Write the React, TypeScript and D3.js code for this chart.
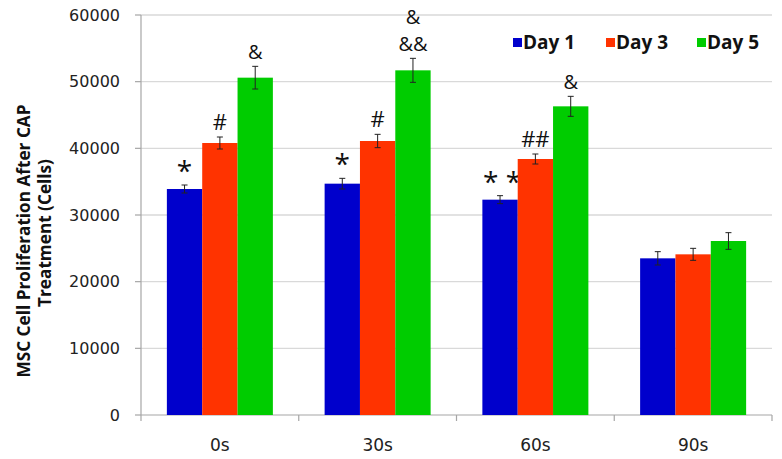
import React from "react";
import * as d3 from "d3";

const categories = ["0s", "30s", "60s", "90s"];
const seriesNames = ["Day 1", "Day 3", "Day 5"];
const day1 = [33900, 34700, 32300, 23500];
const day3 = [40800, 41100, 38400, 24100];
const day5 = [50600, 51700, 46300, 26100];
const day1Err = [600, 800, 600, 1000];
const day3Err = [900, 1000, 750, 900];
const day5Err = [1700, 1800, 1500, 1250];
const yTicks = [0, 10000, 20000, 30000, 40000, 50000, 60000];
// significance marks per category per series (lines stacked upward)
const marks: string[][][] = [
  [["*"], ["#"], ["&"]],
  [["*"], ["#"], ["&&", "&"]],
  [["* *"], ["##"], ["&"]],
  [[], [], []],
];
const colors = ["#0000CC", "#FF3300", "#00CC00"];

export default function App() {
  const W = 782, H = 459;
  const x0 = 141, x1 = 772, yTop = 15, yBot = 415;
  const values = [day1, day3, day5];
  const errs = [day1Err, day3Err, day5Err];
  const x = d3.scaleBand<string>().domain(categories).range([x0, x1]).paddingInner(0).paddingOuter(0);
  const y = d3.scaleLinear().domain([0, 60000]).range([yBot, yTop]);
  const bw = x.bandwidth();
  const barW = bw * 0.224;
  const font = "'DejaVu Sans', sans-serif";
  const fontB = "'Open Sans', sans-serif";
  return (
    <svg width={W} height={H} style={{ position: "absolute", left: 0, top: 0, background: "#fff" }}>
      {yTicks.map((t) => (
        <g key={t}>
          {t > 0 && <line x1={x0} x2={x1} y1={y(t)} y2={y(t)} stroke="#d9d9d9" strokeWidth={1.3} />}
          <line x1={x0 - 6} x2={x0} y1={y(t)} y2={y(t)} stroke="#a6a6a6" strokeWidth={1.2} />
          <text x={120} y={y(t)} dy="0.36em" textAnchor="end" fontSize={16} fontFamily={font} fill="#222">{t}</text>
        </g>
      ))}
      <line x1={x0} x2={x0} y1={yTop} y2={yBot} stroke="#a6a6a6" strokeWidth={1.2} />
      <line x1={x0} x2={x1} y1={yBot} y2={yBot} stroke="#a6a6a6" strokeWidth={1.2} />
      {categories.map((c) => (
        <line key={"t" + c} x1={x(c)!} x2={x(c)!} y1={yBot} y2={yBot + 6} stroke="#a6a6a6" strokeWidth={1.2} />
      ))}
      <line x1={x1} x2={x1} y1={yBot} y2={yBot + 6} stroke="#a6a6a6" strokeWidth={1.2} />
      {categories.map((c, i) => {
        const cx = x(c)! + bw / 2;
        return (
          <g key={c}>
            {values.map((vals, s) => {
              const bx = cx - 1.5 * barW + s * barW;
              const v = vals[i];
              const e = errs[s][i];
              const mx = bx + barW / 2;
              const mk = marks[i][s];
              return (
                <g key={s}>
                  <rect x={bx} y={y(v)} width={barW} height={yBot - y(v)} fill={colors[s]} />
                  <line x1={mx} x2={mx} y1={y(v + e)} y2={y(v - e)} stroke="#222" strokeWidth={1} />
                  <line x1={mx - 3} x2={mx + 3} y1={y(v + e)} y2={y(v + e)} stroke="#222" strokeWidth={1} />
                  <line x1={mx - 3} x2={mx + 3} y1={y(v - e)} y2={y(v - e)} stroke="#222" strokeWidth={1} />
                  {mk.map((m, k) => {
                    const isStar = m.includes("*");
                    const top = y(v + e);
                    return isStar ? (
                      <text key={k} x={mx + (m.length > 1 ? 2 : 0)} y={top - 4} textAnchor="middle"
                        fontSize={28} fontFamily={fontB} fill="#111">{m}</text>
                    ) : (
                      <text key={k} x={mx} y={top - 7 - k * 27} textAnchor="middle"
                        fontSize={m.includes("#") ? 22 : 20} fontFamily={fontB} fill="#111">{m}</text>
                    );
                  })}
                </g>
              );
            })}
            <text x={cx} y={451} textAnchor="middle" fontSize={17} fontFamily={font} fill="#222">{c}</text>
          </g>
        );
      })}
      {seriesNames.map((n, s) => {
        const lx = [513, 606, 697][s];
        return (
          <g key={n}>
            <rect x={lx} y={38} width={9} height={9} fill={colors[s]} />
            <text x={lx + 10} y={49} fontSize={19} fontWeight="bold" fontFamily={fontB} fill="#111">{n}</text>
          </g>
        );
      })}
      <g transform="translate(30,241) rotate(-90)">
        <text x={0} y={0} textAnchor="middle" fontSize={17.2} fontWeight="bold" fontFamily={fontB} fill="#111">MSC Cell Proliferation After CAP</text>
        <text x={8} y={21} textAnchor="middle" fontSize={17.2} fontWeight="bold" fontFamily={fontB} fill="#111">Treatment (Cells)</text>
      </g>
    </svg>
  );
}
